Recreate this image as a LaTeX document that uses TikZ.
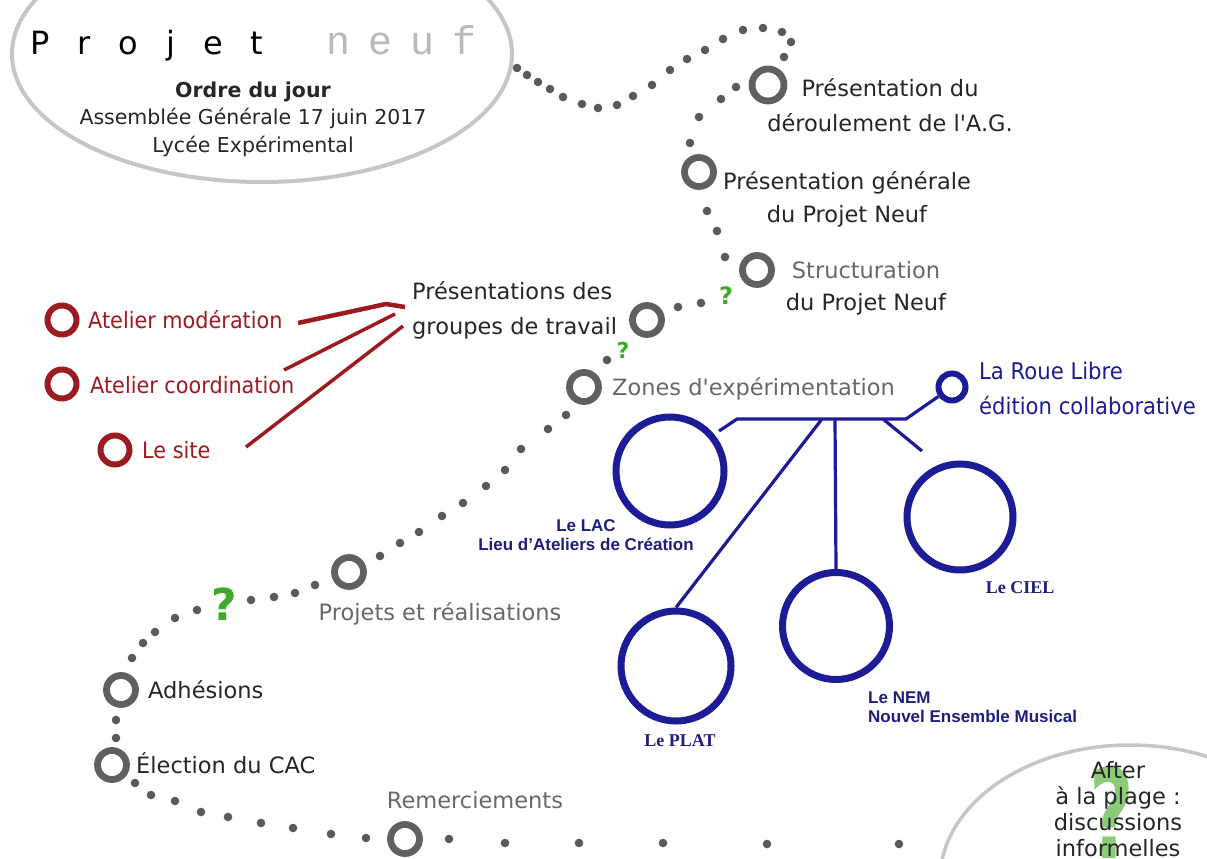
\documentclass[tikz,border=0pt]{standalone}
\usepackage{fontspec}
\setmainfont{DejaVu Sans}
\newfontfamily\labelfont{DejaVu Sans}
\newfontfamily\narrowfont[FakeStretch=0.92]{DejaVu Sans}
\newfontfamily\arialfont{Liberation Sans}
\newfontfamily\timesfont{Liberation Serif}
\newfontfamily\dotfont{Liberation Mono}
\usepackage{tikz}
\definecolor{ink}{HTML}{262626}
\definecolor{softtext}{HTML}{686868}
\definecolor{dotgray}{HTML}{5A5A5A}
\definecolor{stopgray}{HTML}{606060}
\definecolor{softgray}{HTML}{C6C6C6}
\definecolor{wine}{HTML}{9B1B20}
\definecolor{zoneblue}{HTML}{1C1C96}
\definecolor{labelblue}{HTML}{1E1E7C}
\definecolor{qgreen}{HTML}{3DAA2A}
\definecolor{qlight}{HTML}{8CCB78}

\begin{document}
\begin{tikzpicture}[x=1pt,y=-1pt,
  every node/.append style={inner sep=0pt,text=ink,font=\labelfont\fontsize{22.5}{34}\selectfont},
  station/.style={circle,draw=stopgray,line width=6.8pt,minimum size=29pt},
  atelier/.style={circle,draw=wine,line width=6pt,minimum size=29pt},
  zone/.style={circle,draw=zoneblue,line width=7pt},
  redlbl/.style={text=wine,font=\narrowfont\fontsize{22.6}{28}\selectfont},
  zonelbl/.style={text=labelblue,font=\arialfont\bfseries\fontsize{17}{19.5}\selectfont},
  seriflbl/.style={text=labelblue,font=\timesfont\bfseries\fontsize{18}{20}\selectfont},
  qmark/.style={text=qgreen,font=\labelfont\bfseries\fontsize{#1}{#1}\selectfont},
  branch/.style={zoneblue,line width=3.2pt}]
\useasboundingbox (0,0) rectangle (1207,859);
\clip (0,0) rectangle (1207,859);
\fill[white] (0,0) rectangle (1207,859);

\draw[softgray,line width=4pt] (262,54) ellipse [x radius=250,y radius=128];
\node[anchor=base west,font=\labelfont\fontsize{32}{32}\selectfont,text=black] (projet) at (30,55)
  {P\hspace{28pt}r\hspace{28pt}o\hspace{28pt}j\hspace{28pt}e\hspace{28pt}t};
\node[anchor=base west,font=\dotfont\fontsize{40}{40}\selectfont,text=gray!55] (neuf) at (326,55)
  {n\hspace{18pt}e\hspace{18pt}u\hspace{18pt}f};
\node[align=center,font=\labelfont\fontsize{20.5}{27.5}\selectfont] (ordre) at (253,119)
  {\textbf{Ordre du jour}\\Assemblée Générale 17 juin 2017\\Lycée Expérimental};

\foreach \p in {(517,68),(527,75),(538,82),(550,89),(563,97),(582,104),(598,108),(617,105),
  (633,96),(652,85),(670,70),(687,59),(705,50),(723,39),(743,30),(763,28),(782,32),(791,42),(784,57),
  (736,87),(721,99),(699,117),(690,143),(707,211),(717,231),(725,257),(701,303),(678,307),(607,360),
  (566,415),(548,429),(521,449),(505,470),(486,486),(463,503),(442,516),(419,532),(400,543),(380,556),
  (315,585),(295,593),(274,597),(251,600),(197,610),(175,618),(155,632),(143,643),(132,658),
  (116,720),(116,738),(135,783),(151,795),(175,801),(201,812),(228,817),(261,823),(293,828),
  (331,834),(366,838),(449,839),(505,843),(579,843),(663,843),(767,844),(899,844)}
  \fill[dotgray] \p circle (4.3);

\node[station,minimum size=32pt] (pres) at (768,85) {};
\node[station] (gen) at (699,172) {};
\node[station] (struct) at (757,270) {};
\node[station] (groupes) at (647,320) {};
\node[station] (zones) at (584,387) {};
\node[station] (projets) at (349,572) {};
\node[station] (adh) at (121,690) {};
\node[station] (elec) at (112,765) {};
\node[station] (remer) at (405,839) {};

\node[qmark=24] (q1) at (726,296) {?};
\node[qmark=22] (q2) at (623,350) {?};
\node[qmark=44] (q3) at (224,604) {?};

\node[align=center,font=\labelfont\fontsize{22.5}{35}\selectfont] (presl) at (890,105) {Présentation du\\déroulement de l'A.G.};
\node[align=center,font=\labelfont\fontsize{22.5}{33}\selectfont] (genl) at (847,199) {Présentation générale\\du Projet Neuf};
\node[align=center,font=\labelfont\fontsize{22.5}{32}\selectfont] (structl) at (866,288) {\textcolor{softtext}{Structuration}\\du Projet Neuf};
\node[align=left,anchor=west,font=\labelfont\fontsize{22.5}{35}\selectfont] (groupesl) at (412,310) {Présentations des\\groupes de travail};
\node[anchor=mid west,text=softtext] (zonesl) at (612,393) {Zones d'expérimentation};
\node[anchor=mid,text=softtext] (projetsl) at (440,618) {Projets et réalisations};
\node[anchor=mid west] (adhl) at (148,696) {Adhésions};
\node[anchor=mid west] (elecl) at (136,771) {Élection du CAC};
\node[anchor=mid,text=softtext] (remerl) at (475,806) {Remerciements};

\node[atelier] (moder) at (62,320) {};
\node[atelier] (coord) at (62,384) {};
\node[atelier] (site) at (115,450) {};
\node[redlbl,anchor=mid west] (moderl) at (88,326) {Atelier modération};
\node[redlbl,anchor=mid west] (coordl) at (90,391) {Atelier coordination};
\node[redlbl,anchor=mid west] (sitel) at (142,456) {Le site};
\coordinate (fanA) at (298,323);
\coordinate (fanB) at (284,370);
\coordinate (fanC) at (246,447);
\coordinate (tipA) at (386,304);
\coordinate (tipB) at (395,314);
\coordinate (tipC) at (403,326);
\draw[wine,line width=4.5pt,line join=round] (fanA) -- (tipA) -- (405,307);
\draw[wine,line width=3.5pt] (fanB) -- (tipB);
\draw[wine,line width=3.5pt] (fanC) -- (tipC);

\node[zone,line width=6pt,minimum size=27pt] (roue) at (952,387) {};
\node[zone,minimum size=108pt] (lac) at (670,471) {};
\node[zone,minimum size=106pt] (ciel) at (960,517) {};
\node[zone,minimum size=107pt] (nem) at (836,626) {};
\node[zone,minimum size=110pt] (plat) at (676,666) {};
\coordinate (lacend) at (719,431);
\coordinate (hubL) at (737,419);
\coordinate (hubR) at (906,419);
\coordinate (forkplat) at (822,419);
\coordinate (forknem) at (835,419);
\coordinate (forkciel) at (883,419);
\coordinate (cielend) at (922,451);
\draw[branch,line join=round] (lacend) -- (hubL) -- (hubR) -- (roue);
\draw[branch] (forkplat) -- (plat.north);
\draw[branch] (forknem) -- (nem.north);
\draw[branch] (forkciel) -- (cielend);

\node[anchor=west,align=left,text=zoneblue,font=\narrowfont\fontsize{23}{35}\selectfont] (rouel) at (979,388) {La Roue Libre\\édition collaborative};
\node[zonelbl,align=center] (lacl) at (586,535) {Le LAC\\Lieu d’Ateliers de Création};
\node[zonelbl,align=left,anchor=west] (neml) at (868,707) {Le NEM\\Nouvel Ensemble Musical};
\node[seriflbl] (ciell) at (1020,588) {Le CIEL};
\node[seriflbl] (platl) at (680,741) {Le PLAT};

\draw[softgray,line width=3.5pt] (1130,880) ellipse [x radius=190,y radius=135];
\node[anchor=base,text=qlight,font=\labelfont\bfseries\fontsize{124}{124}\selectfont] (afterq) at (1112,858) {\scalebox{0.62}[1]{?}};
\node[align=center,font=\labelfont\fontsize{22.5}{26}\selectfont] (afterl) at (1118,809) {After\\à la plage :\\discussions\\informelles};
\end{tikzpicture}
\end{document}
